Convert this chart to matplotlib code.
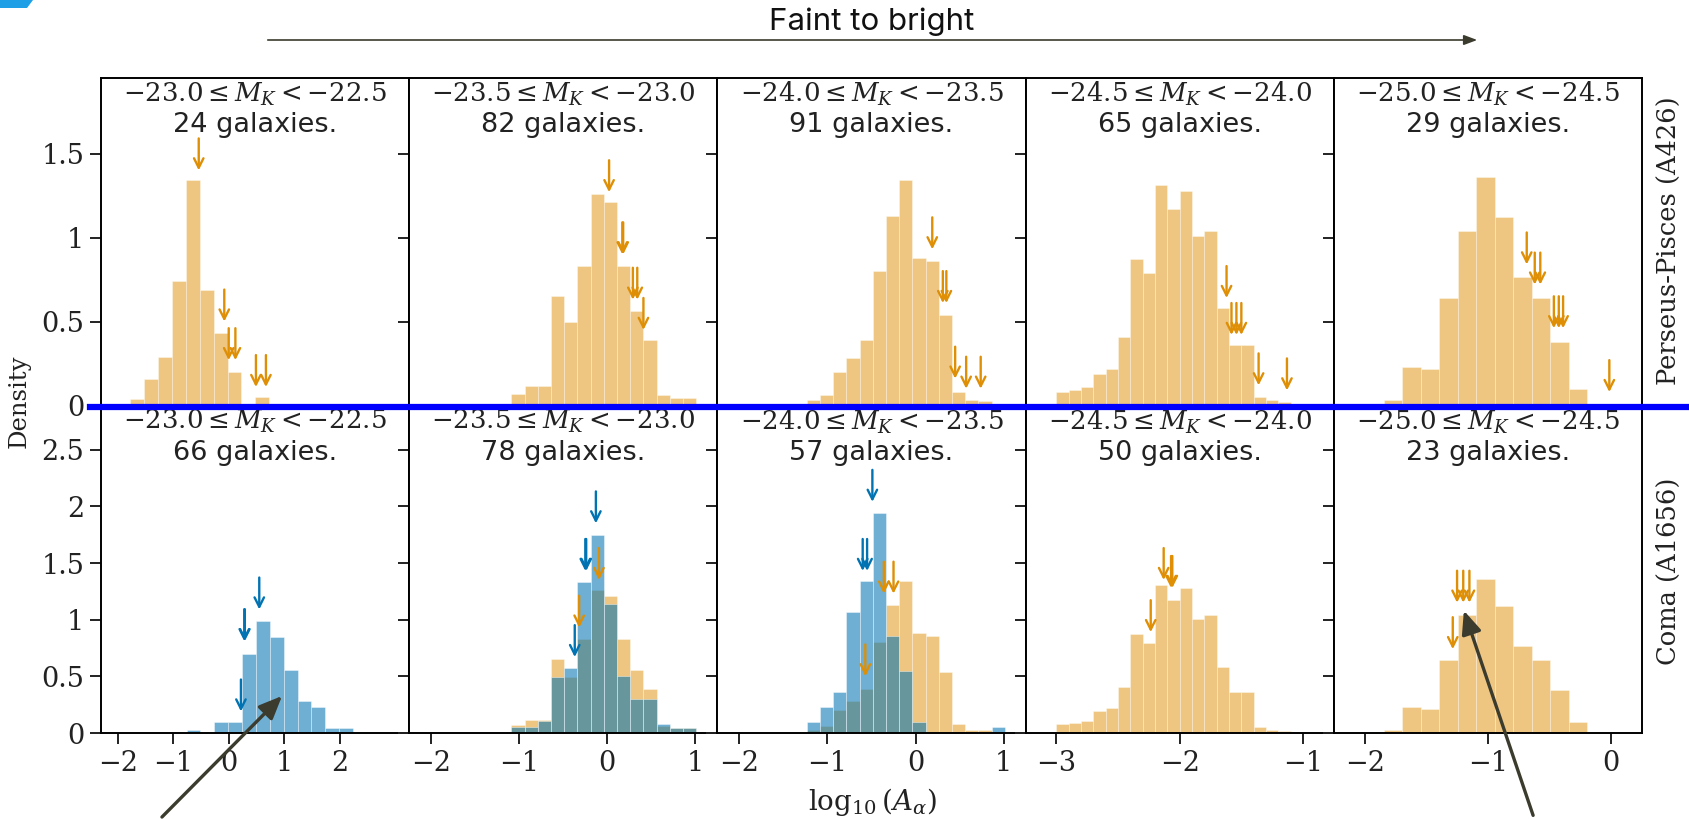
import matplotlib.pyplot as plt
import numpy as np
from matplotlib.patches import FancyArrowPatch, Polygon
from matplotlib.lines import Line2D
from matplotlib.ticker import FuncFormatter

plt.rcParams['font.family'] = ['DejaVu Sans']
plt.rcParams['mathtext.fontset'] = 'dejavuserif'

W, H = 1690, 819

ORANGE = '#DE8F05'
BLUE = '#0173B2'
INK = '#3b3b2e'

# magnitude bins, faint to bright
mag_lo = ['-23.0', '-23.5', '-24.0', '-24.5', '-25.0']
mag_hi = ['-22.5', '-23.0', '-23.5', '-24.0', '-24.5']
n_perseus = [24, 82, 91, 65, 29]
n_coma = [66, 78, 57, 50, 23]

xlims = [(-2.3, 3.25), (-2.25, 1.25), (-2.25, 1.25), (-3.25, -0.75), (-2.25, 0.25)]
xticks = [[-2, -1, 0, 1, 2], [-2, -1, 0, 1], [-2, -1, 0, 1], [-3, -2, -1], [-2, -1, 0]]

# histograms: first bin edge, bin width, densities
orange_start = [-1.77, -1.09, -1.235, -3.0, -1.845]
orange_width = [0.25, 0.15, 0.15, 0.1, 0.15]
orange_h1 = [0.04, 0.16, 0.29, 0.74, 1.34, 0.69, 0.43, 0.20, 0.0, 0.05, 0.01]
orange_h2 = [0.07, 0.115, 0.115, 0.65, 0.495, 0.83, 1.26, 1.21, 0.83, 0.56, 0.39, 0.06, 0.045, 0.045]
orange_h3 = [0.03, 0.06, 0.2, 0.28, 0.39, 0.8, 1.13, 1.34, 0.88, 0.86, 0.54, 0.08, 0.03, 0.025]
orange_h4 = [0.08, 0.09, 0.11, 0.19, 0.22, 0.41, 0.87, 0.79, 1.31, 1.17, 1.28, 1.01, 1.04, 0.58,
             0.36, 0.36, 0.05, 0.03, 0.02]
orange_h5 = [0.03, 0.23, 0.215, 0.64, 1.04, 1.36, 1.125, 0.765, 0.64, 0.38, 0.10, 0.01]
orange_heights = [orange_h1, orange_h2, orange_h3, orange_h4, orange_h5]

blue_start = [-0.76, -1.09, -1.235]
blue_width = [0.25, 0.15, 0.15]
blue_h1 = [0.03, 0.0, 0.10, 0.10, 0.70, 0.985, 0.85, 0.56, 0.28, 0.23, 0.045, 0.045, 0.01]
blue_h2 = [0.05, 0.05, 0.11, 0.49, 0.57, 1.33, 1.75, 1.14, 0.50, 0.30, 0.30, 0.08, 0.04, 0.04]
blue_h3 = [0.10, 0.23, 0.36, 1.07, 1.34, 1.94, 0.86, 0.55, 0.10, 0, 0, 0, 0, 0, 0.05]
blue_heights = [blue_h1, blue_h2, blue_h3]

# which panels in the Coma row carry each histogram
coma_orange_cols = [1, 2, 3, 4]
coma_blue_cols = [0, 1, 2]

# individual objects marked with arrows: (x, tip height)
top_arrow_x = [[-0.54, -0.08, 0.0, 0.12, 0.49, 0.67],
               [0.02, 0.17, 0.18, 0.29, 0.34, 0.41],
               [0.19, 0.31, 0.35, 0.45, 0.575, 0.74],
               [-1.62, -1.58, -1.54, -1.50, -1.36, -1.13],
               [-0.685, -0.62, -0.575, -0.465, -0.425, -0.39, -0.015]]
top_arrow_y = [[1.40, 0.50, 0.27, 0.27, 0.11, 0.11],
               [1.27, 0.90, 0.90, 0.63, 0.63, 0.45],
               [0.93, 0.61, 0.61, 0.16, 0.10, 0.10],
               [0.64, 0.42, 0.42, 0.42, 0.12, 0.09],
               [0.84, 0.72, 0.72, 0.46, 0.46, 0.46, 0.08]]

bot_blue_x = [[0.55, 0.28, 0.29, 0.22], [-0.13, -0.25, -0.24, -0.37], [-0.49, -0.60, -0.55], [], []]
bot_blue_y = [[1.09, 0.81, 0.81, 0.19], [1.85, 1.43, 1.43, 0.67], [2.04, 1.43, 1.43], [], []]
bot_orange_x = [[], [-0.095, -0.32], [-0.36, -0.25, -0.57],
                [-2.13, -2.07, -2.06, -2.235],
                [-1.25, -1.20, -1.15, -1.285]]
bot_orange_y = [[], [1.35, 0.93], [1.23, 1.23, 0.50],
                [1.35, 1.28, 1.28, 0.89],
                [1.15, 1.15, 1.15, 0.74]]


def fig_xy(x, y):
    return x / W, 1 - y / H


def draw_hist(ax, start, width, heights, color, alpha):
    left = start + width * np.arange(len(heights))
    ax.bar(left, heights, width=width, align='edge', color=color, alpha=alpha,
           edgecolor='white', linewidth=0.5)


def mark(ax, xs, ys, color):
    for x, y in zip(xs, ys):
        ax.annotate('', xy=(x, y), xytext=(0, 23), textcoords='offset points',
                    arrowprops=dict(arrowstyle='->', color=color, lw=1.7,
                                    shrinkA=0, shrinkB=0, mutation_scale=17))


def panel_title(ax, lo, hi, n):
    ax.annotate(r'$%s \leq M_K < %s$' % (lo, hi), xy=(0.5, 1), xycoords='axes fraction',
                xytext=(0, -11.5), textcoords='offset points', ha='center', va='center',
                fontsize=18.7, color='#222222')
    ax.annotate('%d galaxies.' % n, xy=(0.5, 1), xycoords='axes fraction',
                xytext=(0, -34), textcoords='offset points', ha='center', va='center',
                fontsize=19.5, color='#222222')


fig, axes = plt.subplots(2, 5, figsize=(W / 100, H / 100), dpi=100, sharex='col', sharey='row')
fig.subplots_adjust(left=101 / W, right=1642 / W, bottom=1 - 733 / H, top=1 - 78 / H,
                    wspace=0, hspace=0)

fmt = FuncFormatter(lambda v, p: ('%g' % v).replace('-', '\u2212'))

for j in range(5):
    top, bot = axes[0, j], axes[1, j]

    draw_hist(top, orange_start[j], orange_width[j], orange_heights[j], ORANGE, 0.5)
    mark(top, top_arrow_x[j], top_arrow_y[j], ORANGE)
    panel_title(top, mag_lo[j], mag_hi[j], n_perseus[j])

    if j in coma_orange_cols:
        draw_hist(bot, orange_start[j], orange_width[j], orange_heights[j], ORANGE, 0.5)
    if j in coma_blue_cols:
        draw_hist(bot, blue_start[j], blue_width[j], blue_heights[j], BLUE, 0.57)
    mark(bot, bot_orange_x[j], bot_orange_y[j], ORANGE)
    mark(bot, bot_blue_x[j], bot_blue_y[j], BLUE)
    panel_title(bot, mag_lo[j], mag_hi[j], n_coma[j])

    bot.set_xlim(*xlims[j])
    bot.set_xticks(xticks[j])
    bot.xaxis.set_major_formatter(fmt)

    for ax in (top, bot):
        for s in ax.spines.values():
            s.set_linewidth(1.4)
        ax.tick_params(direction='out', length=8, width=1.4, labelsize=19.5, pad=4,
                       labelfontfamily='DejaVu Serif', colors='#222222')
        ax.yaxis.set_major_formatter(fmt)
    top.tick_params(axis='x', length=0)

axes[0, 0].set_ylim(0, 1.95)
axes[0, 0].set_yticks([0, 0.5, 1, 1.5])
axes[1, 0].set_ylim(0, 2.89)
axes[1, 0].set_yticks([0, 0.5, 1, 1.5, 2, 2.5])

fig.text(*fig_xy(19, 401), 'Density', rotation=90, ha='center', va='center',
         fontsize=17.5, family='DejaVu Serif', color='#222222')
fig.text(*fig_xy(1668, 241), 'Perseus-Pisces (A426)', rotation=90, ha='center', va='center',
         fontsize=18.5, family='DejaVu Serif', color='#222222')
fig.text(*fig_xy(1668, 571), 'Coma (A1656)', rotation=90, ha='center', va='center',
         fontsize=18.5, family='DejaVu Serif', color='#222222')
fig.text(*fig_xy(872, 802), r'$\log_{10}(A_\alpha)$', ha='center', va='center',
         fontsize=20, color='#222222')

# slide overlay: direction arrow, divider line and callouts
fig.text(*fig_xy(872, 22), 'Faint to bright', ha='center', va='center',
         fontsize=22.5, family='Inter', color='#111111')
fig.add_artist(FancyArrowPatch(fig_xy(265, 40), fig_xy(1480, 40), transform=fig.transFigure,
                               arrowstyle='-|>,head_length=0.8,head_width=0.3',
                               mutation_scale=10, color=INK, lw=1.2))
fig.add_artist(Line2D([90 / W, 1], [1 - 407 / H] * 2, transform=fig.transFigure,
                      color='#0000ff', lw=4.5))
for tail, head in [((160, 819), (284, 694)), ((1534, 818), (1463, 608))]:
    fig.add_artist(FancyArrowPatch(fig_xy(*tail), fig_xy(*head), transform=fig.transFigure,
                                   arrowstyle='-|>,head_length=1.4,head_width=0.6',
                                   mutation_scale=10, color=INK, lw=2.4))
fig.add_artist(Polygon([fig_xy(0, 0), fig_xy(33, 0), fig_xy(27, 8), fig_xy(0, 8)],
                       closed=True, transform=fig.transFigure, color='#1f9fe6', lw=0))

fig.savefig('out.png', dpi=100)
